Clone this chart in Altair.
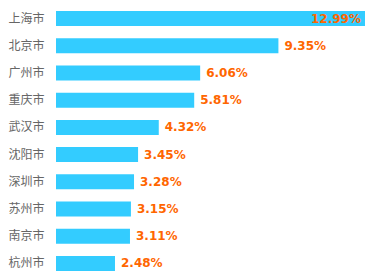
import altair as alt
import pandas as pd

cities = ["上海市", "北京市", "广州市", "重庆市", "武汉市", "沈阳市", "深圳市", "苏州市", "南京市", "杭州市"]
values = [12.99, 9.35, 6.06, 5.81, 4.32, 3.45, 3.28, 3.15, 3.11, 2.48]
labels = ["12.99%", "9.35%", "6.06%", "5.81%", "4.32%", "3.45%", "3.28%", "3.15%", "3.11%", "2.48%"]

df = pd.DataFrame({"city": cities, "value": values, "label": labels})
df["inside"] = df["value"] == max(values)

y = alt.Y("city:N", sort=cities,
          scale=alt.Scale(paddingInner=0.4485, paddingOuter=0),
          axis=alt.Axis(title=None, domain=False, ticks=False, labelAlign="left",
                        labelPadding=48, labelFontSize=12, labelColor="#666666",
                        labelFont="Noto Sans CJK SC"))
x = alt.X("value:Q", scale=alt.Scale(domain=[0, 12.99], nice=False, zero=True),
          axis=None)

bars = alt.Chart(df).mark_bar(color="#33ccff").encode(x=x, y=y)

txt_out = alt.Chart(df).transform_filter("!datum.inside").mark_text(
    align="left", baseline="middle", dx=6, font="DejaVu Sans", fontWeight="bold",
    fontSize=12, color="#ff6600").encode(x=x, y=y, text="label:N")

txt_in = alt.Chart(df).transform_filter("datum.inside").mark_text(
    align="right", baseline="middle", dx=-4, font="DejaVu Sans", fontWeight="bold",
    fontSize=12, color="#ff6600").encode(x=x, y=y, text="label:N")

chart = alt.layer(bars, txt_out, txt_in).properties(
    width=309, height=260,
    autosize=alt.AutoSizeParams(type="none"),
    padding={"left": 48, "top": 3, "right": 0, "bottom": 0},
).configure_view(stroke=None)

chart.save("out.html", embed_options={"renderer": "svg", "actions": False})
